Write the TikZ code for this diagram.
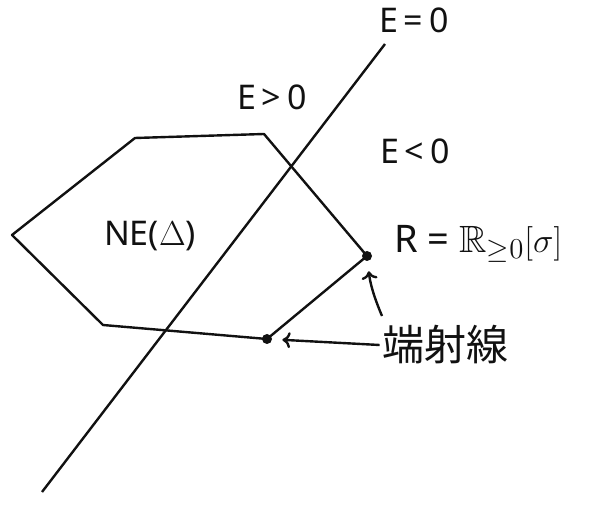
\documentclass[tikz,border=0pt]{standalone}
\usepackage{fontspec}
\usepackage{amssymb}
\setmainfont{Noto Sans}
\newfontfamily\cjkfont{Noto Sans CJK JP}
\usetikzlibrary{positioning, arrows.meta}
\definecolor{inkBlack}{HTML}{111111}

\begin{document}
\begin{tikzpicture}[
    x=0.5pt, y=-0.5pt,
    edge/.style={draw=inkBlack, line width=1.2pt, line join=round},
    vertexdot/.style={circle, fill=inkBlack, inner sep=0pt, minimum size=5pt},
    lbl/.style={text=inkBlack, font=\fontsize{17}{20}\selectfont, inner sep=1pt},
    arrow/.style={-{To[length=4pt, width=8pt]}, line width=1.2pt, inkBlack, shorten >=5pt}
]
    \useasboundingbox (0,0) rectangle (592,506);

    % Newton polygon
    \coordinate (tl) at (135,138);
    \coordinate (tr) at (264,134);
    \coordinate (r) at (367,256);
    \coordinate (br) at (267,339);
    \coordinate (bl) at (103,325);
    \coordinate (l) at (12,235);
    \draw[edge] (tl) -- (tr) -- (r) -- (br) -- (bl) -- (l) -- cycle;
    \node[vertexdot] (vR) at (r) {};
    \node[vertexdot] (vB) at (br) {};

    % the line E = 0
    \coordinate (top) at (385,44);
    \coordinate (bot) at (42,492);
    \draw[edge] (top) -- (bot);

    \node[lbl] (zero) at (414,20) {E\,=\,0};
    \node[lbl] (pos) at (272,97) {E\,>\,0};
    \node[lbl] (neg) at (415,151) {E\,<\,0};
    \node[lbl] (ne) at (150,236) {NE($\Delta$)};
    \node[lbl, anchor=west, font=\fontsize{19}{22}\selectfont] (cone) at (392,244) {R = $\mathbb{R}_{\geq 0}[\sigma]$};
    \node[lbl, font=\cjkfont\fontsize{21}{24}\selectfont] (ray) at (445,345) {端射線};

    \coordinate (up) at (382,316);
    \draw[arrow] (ray.west) -- (vB);
    \draw[arrow] (up) to[bend left=8] (vR);
\end{tikzpicture}
\end{document}
